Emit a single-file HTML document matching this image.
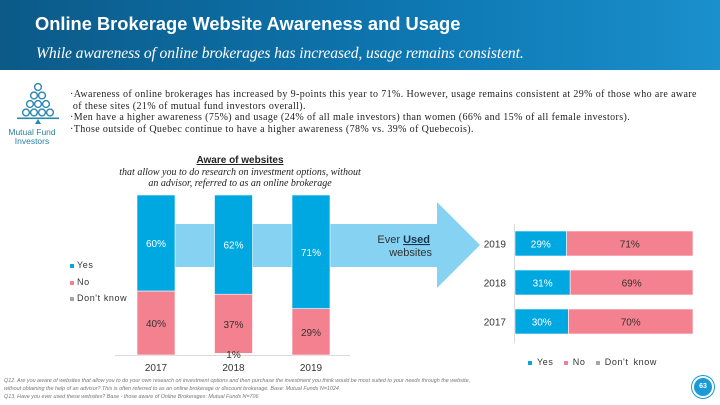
<!DOCTYPE html>
<html><head><meta charset="utf-8"><style>
body{margin:0;width:720px;height:405px;overflow:hidden;background:#fff;font-family:"Liberation Sans",sans-serif;position:relative}
.abs{position:absolute}
</style></head><body>
<div class="abs" style="left:0;top:0;width:720px;height:70px;background:linear-gradient(90deg,#0b5a88,#0e78b3 60%,#1a90cc)"></div>
<div class="abs" style="left:35px;top:13px;color:#fff;font-weight:bold;font-size:18.3px">Online Brokerage Website Awareness and Usage</div>
<div class="abs" style="left:36px;top:45px;color:#fff;font-style:italic;font-family:'Liberation Serif',serif;font-size:15.6px;letter-spacing:-0.1px">While awareness of online brokerages has increased, usage remains consistent.</div>

<svg class="abs" style="left:15px;top:83px" width="46" height="42" viewBox="0 0 46 42">
<g fill="none" stroke="#2a86ad" stroke-width="1.4">
<circle cx="23" cy="4" r="3.4"/>
<circle cx="19" cy="12.5" r="3.4"/><circle cx="27" cy="12.5" r="3.4"/>
<circle cx="15" cy="21" r="3.4"/><circle cx="23" cy="21" r="3.4"/><circle cx="31" cy="21" r="3.4"/>
<circle cx="11" cy="29.5" r="3.4"/><circle cx="19" cy="29.5" r="3.4"/><circle cx="27" cy="29.5" r="3.4"/><circle cx="35" cy="29.5" r="3.4"/>
</g>
<rect x="2" y="34.5" width="42" height="1.6" fill="#2a86ad"/><path d="M23 36 L26 41 L20 41Z" fill="#2a86ad"/>
</svg>
<div class="abs" style="left:4px;top:128px;width:56px;text-align:center;color:#2a7fa0;font-size:8.5px;line-height:9px">Mutual Fund<br>Investors</div>

<div class="abs" style="left:70px;top:89px;width:650px;font-family:'Liberation Serif',serif;font-size:10px;line-height:11.7px;letter-spacing:0.38px;color:#222;white-space:nowrap">
·Awareness of online brokerages has increased by 9-points this year to 71%. However, usage remains consistent at 29% of those who are aware<br>&nbsp;of these sites (21% of mutual fund investors overall).<br>·Men have a higher awareness (75%) and usage (24% of all male investors) than women (66% and 15% of all female investors).<br>·Those outside of Quebec continue to have a higher awareness (78% vs. 39% of Quebecois).</div>

<div class="abs" style="left:100px;top:155px;width:280px;text-align:center;font-size:10px;color:#222;line-height:11.5px"><b><u>Aware of websites</u></b><br><i style="font-family:'Liberation Serif',serif">that allow you to do research on investment options, without<br>an advisor, referred to as an online brokerage</i></div>

<svg class="abs" style="left:0;top:0" width="720" height="405">
<polygon points="175,224 437,224 437,202 480,245 437,288 437,267 175,267" fill="#85d2f2"/>
<g id="left"></g><g id="right"></g>
<text x="430" y="243" font-size="11" fill="#333" text-anchor="end">Ever <tspan font-weight="bold" text-decoration="underline" fill="#1a3550">Used</tspan></text>
<text x="432" y="256" font-size="11" fill="#333" text-anchor="end">websites</text>
</svg>

<div class="abs" style="left:70px;top:257px;font-size:9px;color:#333;line-height:16.5px;letter-spacing:0.6px">
<div><span style="display:inline-block;width:4px;height:4px;background:#00a8e1;margin-right:3px"></span>Yes</div>
<div><span style="display:inline-block;width:4px;height:4px;background:#f4818f;margin-right:3px"></span>No</div>
<div><span style="display:inline-block;width:4px;height:4px;background:#a6a6a6;margin-right:3px"></span>Don't know</div>
</div>
<div class="abs" style="left:528px;top:357px;font-size:9px;color:#333;word-spacing:2px;letter-spacing:0.6px">
<span style="display:inline-block;width:4px;height:4px;background:#00a8e1"></span> Yes &nbsp;<span style="display:inline-block;width:4px;height:4px;background:#f4818f"></span> No &nbsp;<span style="display:inline-block;width:4px;height:4px;background:#a6a6a6"></span> Don't know</div>

<div class="abs" style="left:4px;top:378px;width:690px;font-style:italic;font-size:5.4px;line-height:7.8px;color:#777">Q12. Are you aware of websites that allow you to do your own research on investment options and then purchase the investment you think would be most suited to your needs through the website,<br>without obtaining the help of an advisor? This is often referred to as an online brokerage or discount brokerage. Base: Mutual Funds N=1024<br>Q13. Have you ever used these websites? Base - those aware of Online Brokerages: Mutual Funds N=706</div>
<div class="abs" style="left:694px;top:378px;width:18px;height:18px;border-radius:50%;background:#1a9ad6;color:#fff;font-size:7px;font-weight:bold;text-align:center;line-height:18px;box-shadow:0 0 0 2px #fff,0 0 0 3px #1a9ad6">63</div>

<script>
const leftYears=["2017","2018","2019"];
const leftYes=[60,62,71];
const leftNo=[40,37,29];
const leftDK=[0,1,0];
const rightYears=["2019","2018","2017"];
const rightYes=[29,31,30];
const rightNo=[71,69,70];
const NS="http://www.w3.org/2000/svg";
function mk(tag,attrs,parent){const e=document.createElementNS(NS,tag);for(const k in attrs)e.setAttribute(k,attrs[k]);parent.appendChild(e);return e;}
const L=document.getElementById('left');
const baseY=355,H=160,bx0=137,bstep=77.5,bw=38;
const yL=v=>v/100*H;
const xL=i=>bx0+i*bstep;
const base=mk('line',{x1:115,y1:baseY+0.5,x2:350,y2:baseY+0.5,stroke:'#d9d9d9'},L);


leftYears.forEach((yr,i)=>{
  const x=xL(i);let y=baseY;
  const dk=yL(leftDK[i]);y-=dk;
  const no=yL(leftNo[i]);y-=no;
  const r1=mk('rect',{x:x,y:y,width:bw,height:no,fill:'#f4818f',stroke:'#fff','stroke-width':0.6},L);
  
  
  const t1=mk('text',{x:x+bw/2,y:y+no/2+4,'font-size':10,fill:'#333','text-anchor':'middle'},L);t1.textContent=leftNo[i]+'%';
  
  
  const ye=yL(leftYes[i]);y-=ye;
  const r2=mk('rect',{x:x,y:y,width:bw,height:ye,fill:'#00a8e1',stroke:'#fff','stroke-width':0.6},L);
  
  
  const t2=mk('text',{x:x+bw/2,y:y+ye*0.5+4,'font-size':10,fill:'#fff','text-anchor':'middle'},L);t2.textContent=leftYes[i]+'%';
  
  
  if(leftDK[i]>0){const t3=mk('text',{x:x+bw/2,y:baseY+3,'font-size':10,fill:'#333','text-anchor':'middle'},L);t3.textContent=leftDK[i]+'%';
  
  }
  const tx=mk('text',{x:x+bw/2,y:baseY+16,'font-size':10,fill:'#333','text-anchor':'middle'},L);tx.textContent=yr;
  
  
});
const R=document.getElementById('right');
const ax=514,W=178,by0=231,bstepR=39,bh=25;
const xR=v=>v/100*W;
const ax1=mk('line',{x1:ax+0.5,y1:224,x2:ax+0.5,y2:343,stroke:'#d9d9d9'},R);


rightYears.forEach((yr,i)=>{
  const y=by0+i*bstepR;
  const w1=xR(rightYes[i]);
  const r1=mk('rect',{x:ax+1,y:y,width:w1,height:bh,fill:'#00a8e1',stroke:'#fff','stroke-width':0.6},R);
  
  
  const t1=mk('text',{x:ax+1+w1/2,y:y+bh/2+4,'font-size':10,fill:'#fff','text-anchor':'middle'},R);t1.textContent=rightYes[i]+'%';
  
  
  const w2=xR(rightNo[i]);
  const r2=mk('rect',{x:ax+1+w1,y:y,width:w2,height:bh,fill:'#f4818f',stroke:'#fff','stroke-width':0.6},R);
  
  
  const t2=mk('text',{x:ax+1+w1+w2/2,y:y+bh/2+4,'font-size':10,fill:'#333','text-anchor':'middle'},R);t2.textContent=rightNo[i]+'%';
  
  
  const ty=mk('text',{x:ax-8,y:y+bh/2+4,'font-size':10,fill:'#333','text-anchor':'end'},R);ty.textContent=yr;
  
  
});
</script>
</body></html>
